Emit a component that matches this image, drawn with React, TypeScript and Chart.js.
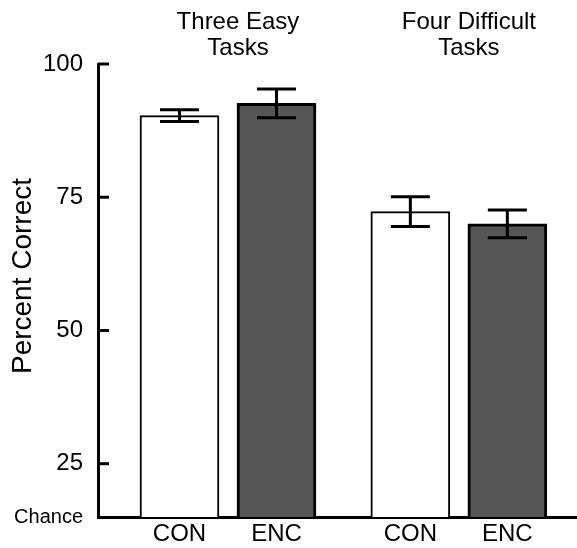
import React, { useEffect, useRef } from "react";
import { Chart, registerables } from "chart.js";

Chart.register(...registerables);

// ---- data ----
const groupTitles: string[][] = [["Three Easy", "Tasks"], ["Four Difficult", "Tasks"]];
const conditions = ["CON", "ENC"];
const conMeans = [90.3, 72.3];
const conErr = [1.1, 2.8];
const encMeans = [92.6, 70.0];
const encErr = [2.7, 2.6];
const yTickValues = [25, 50, 75, 100];
const chanceLevel = 15;
const chanceLabel = "Chance";
const yAxisTitle = "Percent Correct";

const FONT = "'Liberation Sans', Arial, sans-serif";
const GROUP_STEP = 2.38;

export default function App() {
  const ref = useRef<HTMLCanvasElement | null>(null);

  useEffect(() => {
    if (!ref.current) return;

    const points: { x: number; y: number; err: number; cond: number }[] = [];
    groupTitles.forEach((_, g) => {
      points.push({ x: g * GROUP_STEP + 1, y: conMeans[g], err: conErr[g], cond: 0 });
      points.push({ x: g * GROUP_STEP + 2, y: encMeans[g], err: encErr[g], cond: 1 });
    });
    const positions = points.map((p) => p.x);

    const extras = {
      id: "extras",
      afterDatasetsDraw(chart: any) {
        const ctx = chart.ctx;
        const xs = chart.scales.x;
        const ys = chart.scales.y;
        ctx.save();
        ctx.strokeStyle = "#000";
        ctx.lineWidth = 3;
        ctx.lineCap = "butt";
        // error bars
        points.forEach((p) => {
          const x = xs.getPixelForValue(p.x);
          const yHi = ys.getPixelForValue(p.y + p.err);
          const yLo = ys.getPixelForValue(p.y - p.err);
          ctx.beginPath();
          ctx.moveTo(x, yHi);
          ctx.lineTo(x, yLo);
          ctx.moveTo(x - 19.5, yHi);
          ctx.lineTo(x + 19.5, yHi);
          ctx.moveTo(x - 19.5, yLo);
          ctx.lineTo(x + 19.5, yLo);
          ctx.stroke();
        });
        // inward y ticks
        const left = chart.chartArea.left;
        ys.ticks.forEach((t: any) => {
          if (t.value === chanceLevel) return;
          const y = ys.getPixelForValue(t.value);
          ctx.beginPath();
          ctx.moveTo(left, y);
          ctx.lineTo(left + 11, y);
          ctx.stroke();
        });
        // group titles
        ctx.fillStyle = "#000";
        ctx.font = `24px ${FONT}`;
        ctx.textAlign = "center";
        ctx.textBaseline = "middle";
        groupTitles.forEach((lines, g) => {
          const cx = (xs.getPixelForValue(g * GROUP_STEP + 1) + xs.getPixelForValue(g * GROUP_STEP + 2)) / 2 + 10;
          lines.forEach((line, li) => {
            ctx.fillText(line, cx, 22 + li * 26);
          });
        });
        // y axis title
        ctx.translate(23, 276);
        ctx.rotate(-Math.PI / 2);
        ctx.font = `28px ${FONT}`;
        ctx.fillText(yAxisTitle, 0, 0);
        ctx.restore();
      },
    };

    const chart = new Chart(ref.current, {
      type: "bar",
      data: {
        datasets: [
          {
            data: points.map((p) => ({ x: p.x, y: p.y })),
            backgroundColor: points.map((p) => (p.cond === 0 ? "#ffffff" : "#555555")),
            borderColor: "#000000",
            borderWidth: points.map((p) => (p.cond === 0 ? 2 : 3)),
            borderSkipped: false,
            barThickness: 79,
          } as any,
        ],
      },
      options: {
        animation: false,
        responsive: false,
        layout: { padding: { top: 64, left: 0, right: 0, bottom: 0 } },
        plugins: { legend: { display: false }, tooltip: { enabled: false } },
        scales: {
          x: {
            type: "linear",
            min: 0.16,
            max: 5.098,
            offset: false,
            grid: { display: false, drawTicks: false },
            border: { display: true, color: "#000", width: 3 },
            afterBuildTicks: (scale: any) => {
              scale.ticks = positions.map((v) => ({ value: v }));
            },
            afterFit: (scale: any) => {
              scale.height = 31;
            },
            ticks: {
              autoSkip: false,
              maxRotation: 0,
              padding: 3,
              color: "#000",
              font: { size: 24, family: FONT },
              callback: (_v: any, i: number) => conditions[i % conditions.length],
            },
          },
          y: {
            type: "linear",
            min: chanceLevel,
            max: 100,
            grid: { display: false, drawTicks: false },
            border: { display: true, color: "#000", width: 3 },
            afterBuildTicks: (scale: any) => {
              scale.ticks = [chanceLevel, ...yTickValues].map((v) => ({ value: v }));
            },
            afterFit: (scale: any) => {
              scale.width = 98;
            },
            ticks: {
              padding: 15,
              color: "#000",
              font: (c: any) =>
                c.tick && c.tick.value === chanceLevel
                  ? { size: 20, family: FONT }
                  : { size: 24, family: FONT },
              callback: (v: any) => (v === chanceLevel ? chanceLabel : String(v)),
            },
          },
        },
      },
      plugins: [extras],
    });

    return () => chart.destroy();
  }, []);

  return (
    <div style={{ position: "fixed", left: 0, top: 0, width: 577, height: 548, background: "#fff" }}>
      <canvas ref={ref} width={577} height={548} />
    </div>
  );
}
